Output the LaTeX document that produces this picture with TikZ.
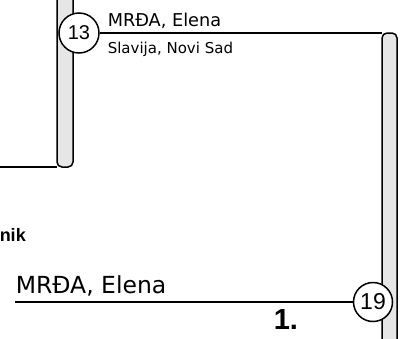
\documentclass[tikz,border=0pt]{standalone}
\usepackage{fontspec}
\setmainfont{DejaVu Sans}
\newfontfamily\numfont{Liberation Sans}
\usetikzlibrary{positioning,calc}
\definecolor{barfill}{HTML}{E6E6E6}
\begin{document}
\begin{tikzpicture}[x=1pt,y=1pt,
         line width=1.5pt,
         seed/.style = {circle,draw,fill=white,minimum size=40pt,inner sep=0pt},
         bar/.style = {draw,fill=barfill,rounded corners=5pt},
         player/.style = {anchor=base west,inner sep=0pt}
]
         \useasboundingbox (0,0) rectangle (403,-338);

         % previous match
         \draw[bar] (57,10) -- (57,-167) -- (73,-167) -- (73,10);
         \coordinate (b0) at (-10,-167);
         \coordinate (b1) at (57,-167);
         \draw (b0) -- (b1);

         % final match
         \draw[bar] (382,-350) -- (382,-33) -- (397,-33) -- (397,-350);
         \coordinate (t1) at (382,-33);

         \node[seed,font=\numfont\fontsize{20}{20}\selectfont]  (s13) at (79,-33) {13};
         \node[seed,minimum size=39pt,
               font=\numfont\fontsize{23}{23}\selectfont]       (s19) at (373,-302) {19};

         \draw (s13) -- (t1);

         \node[player,font=\fontsize{17.7}{20}\selectfont] (p1) at (107,-26) {MRĐA, Elena};
         \node[player,font=\fontsize{15}{18}\selectfont]   (c1) at (107,-53) {Slavija, Novi Sad};

         % winner
         \node[player,font=\numfont\bfseries\fontsize{18}{20}\selectfont] (w0) at (-1,-241) {nik};
         \node[player,font=\fontsize{23.5}{26}\selectfont]                (w1) at (15,-293) {MRĐA, Elena};
         \coordinate (w2) at (15,-302);
         \draw (w2) -- (s19);
         \node[player,font=\numfont\bfseries\fontsize{29}{32}\selectfont] (r1) at (273,-329) {1.};
\end{tikzpicture}
\end{document}
